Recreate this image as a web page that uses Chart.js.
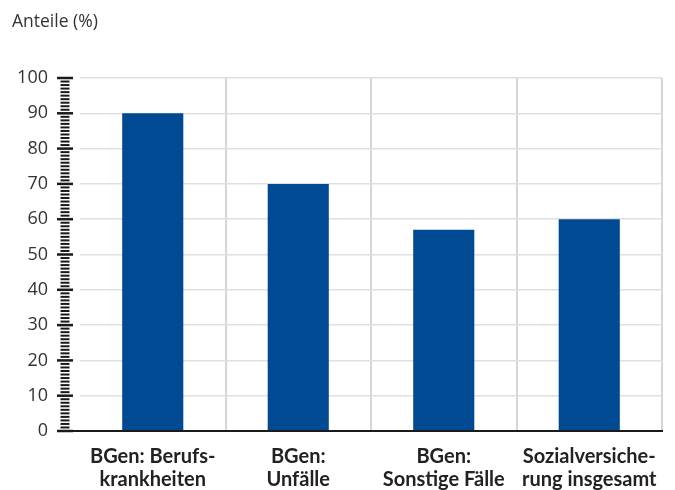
<!DOCTYPE html>
<html>
<head>
<meta charset="utf-8">
<script src="https://cdn.jsdelivr.net/npm/chart.js@4/dist/chart.umd.min.js"></script>
<style>
  html, body { margin: 0; padding: 0; background: #ffffff; }
  #wrap { position: relative; width: 675px; height: 490px; }
</style>
</head>
<body>
<div id="wrap"><canvas id="chart" width="675" height="490"></canvas></div>
<script>
// Categories (two-line labels) and shares in percent
const categories = [
  ['BGen: Berufs-', 'krankheiten'],
  ['BGen:', 'Unfälle'],
  ['BGen:', 'Sonstige Fälle'],
  ['Sozialversiche-', 'rung insgesamt']
];
const shares = [90, 70, 57, 60];
const yTicks = [0, 10, 20, 30, 40, 50, 60, 70, 80, 90, 100];
const axisTitle = 'Anteile (%)';

const barColor = '#004a93';

// Draws the title, the ruler-style tick column and the black baseline
const rulerPlugin = {
  id: 'ruler',
  afterDraw(chart) {
    const ctx = chart.ctx;
    const y = chart.scales.y;
    const area = chart.chartArea;
    ctx.save();
    // title
    ctx.fillStyle = '#333333';
    ctx.font = '17.5px "Open Sans", sans-serif';
    ctx.textAlign = 'left';
    ctx.textBaseline = 'middle';
    ctx.fillText(axisTitle, 12, 22);
    // minor and major ticks
    ctx.strokeStyle = '#1a1a1a';
    for (let v = y.min; v <= y.max; v += 1) {
      const py = y.getPixelForValue(v);
      const major = yTicks.includes(v);
      ctx.beginPath();
      ctx.lineWidth = major ? 2.5 : 2;
      if (major) {
        ctx.moveTo(57, py);
        ctx.lineTo(73, py);
      } else {
        ctx.moveTo(60.5, py);
        ctx.lineTo(69.5, py);
      }
      ctx.stroke();
    }
    // baseline
    const p0 = y.getPixelForValue(0);
    ctx.beginPath();
    ctx.lineWidth = 2;
    ctx.strokeStyle = '#1a1a1a';
    ctx.moveTo(57, p0);
    ctx.lineTo(area.right + 1, p0);
    ctx.stroke();
    ctx.restore();
  }
};

new Chart(document.getElementById('chart'), {
  type: 'bar',
  data: {
    labels: categories,
    datasets: [{
      data: shares,
      backgroundColor: barColor,
      borderWidth: 0,
      categoryPercentage: 1,
      barPercentage: 0.42
    }]
  },
  options: {
    responsive: false,
    animation: false,
    events: [],
    layout: { padding: { top: 78, right: 13, left: 0, bottom: 0 } },
    plugins: { legend: { display: false }, tooltip: { enabled: false }, title: { display: false } },
    scales: {
      x: {
        offset: true,
        border: { display: false },
        grid: {
          offset: true,
          drawTicks: false,
          lineWidth: 2,
          color: (c) => (c.index === 0 ? 'rgba(0,0,0,0)' : '#d6d6d6')
        },
        ticks: {
          color: '#222222',
          padding: 14,
          maxRotation: 0,
          autoSkip: false,
          font: { family: 'Lato, "Open Sans", sans-serif', size: 20, weight: 'bold', lineHeight: 1.15 }
        },
        afterFit(scale) { scale.height = 59; }
      },
      y: {
        min: 0,
        max: 100,
        border: { display: false },
        grid: {
          drawTicks: false,
          lineWidth: 1.5,
          color: '#e0e0e0'
        },
        ticks: {
          stepSize: 10,
          padding: 32,
          color: '#333333',
          font: { family: '"Open Sans", sans-serif', size: 18 }
        },
        afterFit(scale) { scale.width = 80; }
      }
    }
  },
  plugins: [rulerPlugin]
});
</script>
</body>
</html>
